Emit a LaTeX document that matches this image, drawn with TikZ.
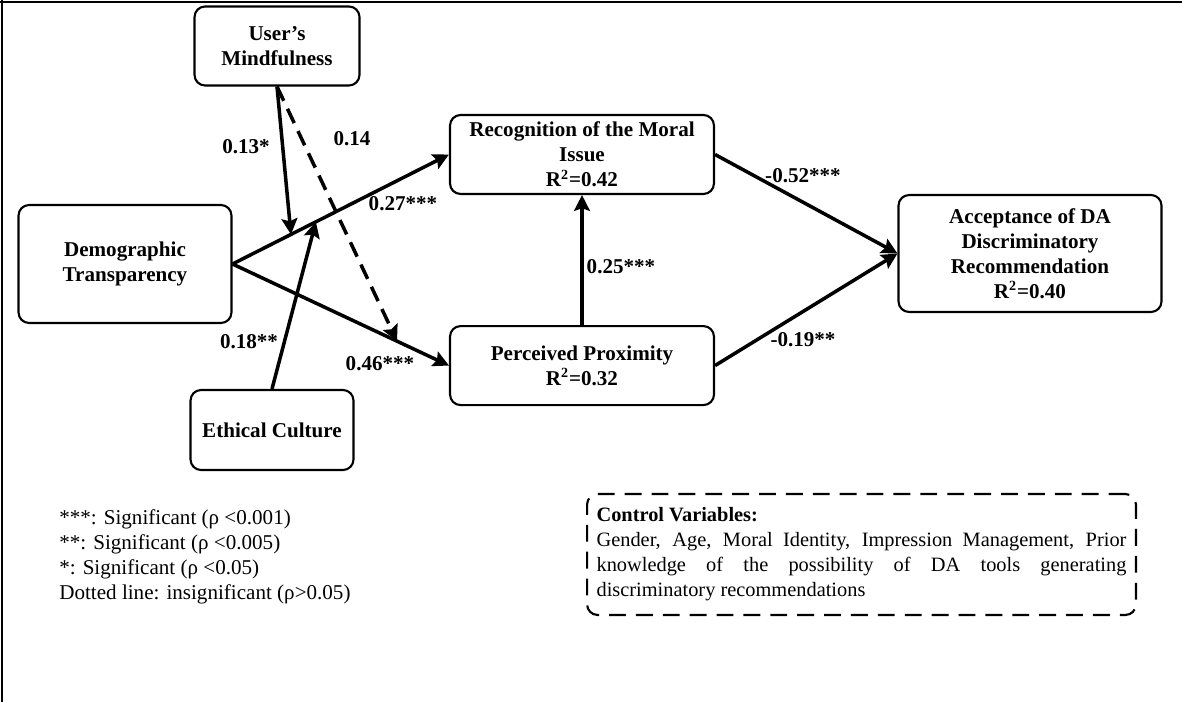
\documentclass[tikz,border=0pt]{standalone}
\usepackage{fontspec}
\setmainfont{Liberation Serif}
\usetikzlibrary{arrows.meta,positioning,calc}

\begin{document}
\begin{tikzpicture}[
  x=0.02cm, y=-0.02cm,
  var/.style={draw, line width=1.2pt, rounded corners=6pt, align=center, inner sep=1pt, font=\fontsize{12}{14.2}\selectfont\bfseries},
  arr/.style={-{Stealth[length=9pt,width=9pt,inset=1.5pt]}, line width=2pt},
  dasharr/.style={arr, dash pattern=on 9pt off 5pt},
  coef/.style={inner sep=1pt, font=\fontsize{12}{14.2}\selectfont\bfseries},
  note/.style={inner sep=0pt, font=\fontsize{12}{14.2}\selectfont}
]
\useasboundingbox (0,0) rectangle (1182,702);
\draw[line width=1.6pt] (0,2) -- (1182,2);
\draw[line width=1.6pt] (2,0) -- (2,702);

% constructs
\node[var, minimum width=3.3cm, minimum height=1.58cm] (um) at (277,46) {User’s\\Mindfulness};
\node[var, minimum width=4.26cm, minimum height=2.36cm] (dt) at (125,264) {Demographic\\Transparency};
\node[var, minimum width=3.26cm, minimum height=1.6cm] (ec) at (272,430) {Ethical Culture};
\node[var, minimum width=5.28cm, minimum height=1.58cm] (rmi) at (582,154.5) {Recognition of the Moral\\Issue\\R\textsuperscript{2}=0.42};
\node[var, minimum width=5.28cm, minimum height=1.58cm, below=2.6cm of rmi] (pp) {Perceived Proximity\\R\textsuperscript{2}=0.32};
\node[var, minimum width=5.26cm, minimum height=2.34cm] (acc) at (1030,253.5) {Acceptance of DA\\Discriminatory\\Recommendation\\R\textsuperscript{2}=0.40};

% paths
\coordinate (m1) at ($(dt.east)!0.27!(rmi.west)$);
\coordinate (m2) at ($(dt.east)!0.385!(rmi.west)$);
\coordinate (m3) at ($(dt.east)!0.76!(pp.west)$);
\draw[arr] (dt.east) -- (rmi.west);
\draw[arr] (dt.east) -- (pp.west);
\draw[arr] (um.south) -- (m1);
\draw[arr] (ec.north) -- (m2);
\draw[dasharr] (um.south) -- (m3);
\draw[arr] (pp.north) -- (rmi.south);
\draw[arr] (rmi.east) -- (acc.west);
\draw[arr] (pp.east) -- (acc.west);

% coefficients
\node[coef] (c13) at (246,147) {0.13*};
\node[coef] (c14) at (352,139) {0.14};
\node[coef] (c27) at (403,204) {0.27***};
\node[coef] (c18) at (249,342) {0.18**};
\node[coef] (c46) at (380,364) {0.46***};
\node[coef] (c25) at (621,267) {0.25***};
\node[coef] (c52) at (803,176) {-0.52***};
\node[coef] (c19) at (803,340) {-0.19**};

% notes
\node[note, anchor=north west, align=left] (legend) at (59,509) {***: Significant (ρ <0.001)\\**: Significant (ρ <0.005)\\*: Significant (ρ <0.05)\\Dotted line: insignificant (ρ>0.05)};
\node[note, draw, line width=1.2pt, dash pattern=on 9.6pt off 5.7pt, rounded corners=6pt, text width=10.6cm, align=justify, inner xsep=5.4pt, minimum height=2.42cm, font=\fontsize{11.6}{14.2}\selectfont] (cv) at (861.5,554.5) {\hyphenpenalty=10000\spaceskip=0.25em plus 1em minus 0.15em\relax\textbf{Control Variables:}\\Gender, Age, Moral Identity, Impression Management, Prior\linebreak knowledge of the possibility of DA tools generating\linebreak discriminatory recommendations};
\end{tikzpicture}
\end{document}
